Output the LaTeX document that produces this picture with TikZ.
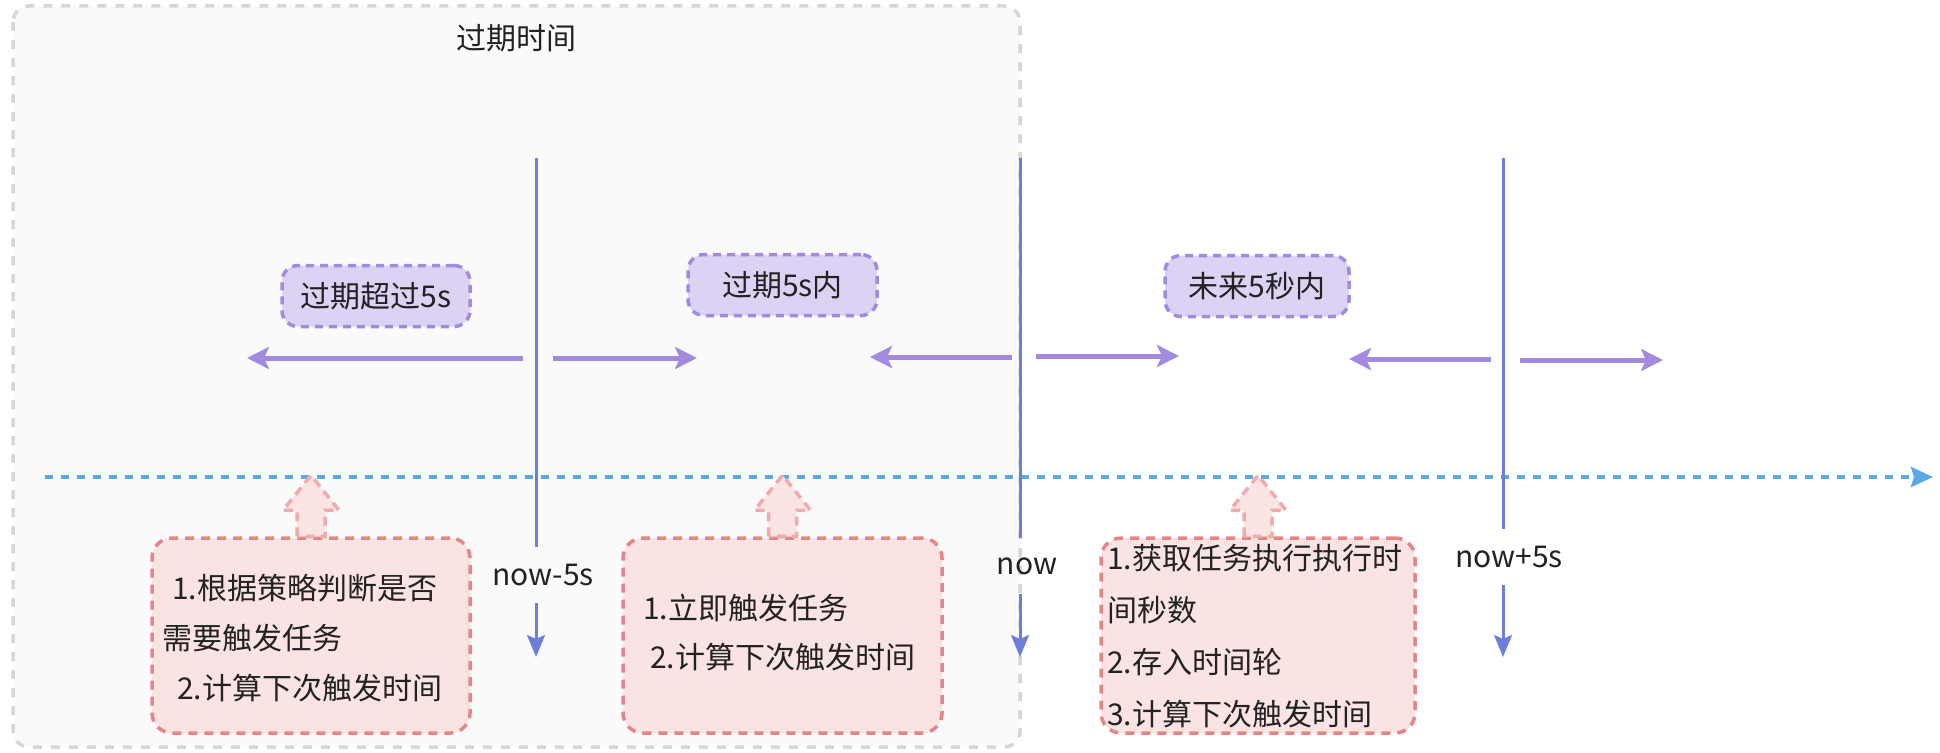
\documentclass[tikz,border=0pt]{standalone}
\usepackage{fontspec}
\setmainfont{Noto Sans CJK SC}
\usetikzlibrary{arrows.meta,calc}
\definecolor{bgfill}{HTML}{FAFAFA}
\definecolor{bgline}{HTML}{D6D6D6}
\definecolor{tagfill}{HTML}{DCD2F3}
\definecolor{tagline}{HTML}{A28BDD}
\definecolor{parrow}{HTML}{A48ADE}
\definecolor{vline}{HTML}{6E7FD9}
\definecolor{bline}{HTML}{5DA7E2}
\definecolor{boxfill}{HTML}{FAE3E3}
\definecolor{boxline}{HTML}{E58586}
\definecolor{harrowline}{HTML}{F1ABAB}
\definecolor{harrowfill}{HTML}{FBE4E4}
\definecolor{txt}{HTML}{222222}
\newcommand{\hollowup}[1]{%
  \draw[hollowarrow] ($(#1.north)+(-14,0)$) -- ++(0,-26) -- ++(-14,0)
    -- ($(#1.north)+(0,-61)$) -- ($(#1.north)+(28,-26)$) -- ++(-14,0)
    -- ($(#1.north)+(14,0)$) -- cycle;}
\begin{document}
\begin{tikzpicture}[x=1pt,y=-1pt,
  font=\fontsize{30}{36}\selectfont, text=txt,
  containerbox/.style={draw=bgline, fill=bgfill, line width=3.5pt,
    dash pattern=on 9pt off 9pt, rounded corners=16pt},
  tagbox/.style={draw=tagline, fill=tagfill, line width=3.5pt,
    dash pattern=on 8pt off 6pt, rounded corners=16pt, inner sep=0pt,
    minimum height=61pt},
  taskbox/.style={draw=boxline, fill=boxfill, line width=3.5pt,
    dash pattern=on 9pt off 7pt, rounded corners=20pt, inner sep=0pt,
    minimum height=195pt},
  hollowarrow/.style={draw=harrowline, fill=harrowfill, line width=3.5pt,
    dash pattern=on 9pt off 6pt, line join=miter},
  timeline/.style={draw=bline, line width=4pt, dash pattern=on 8pt off 8pt,
    -{Stealth[length=22pt,width=20pt,inset=3pt,fill=bline]}},
  markline/.style={draw=vline, line width=3pt},
  markarrow/.style={draw=vline, line width=3pt,
    -{Stealth[length=22pt,width=18pt,inset=4pt,fill=vline]}},
  rangearrow/.style={draw=parrow, line width=5pt,
    -{Stealth[length=22pt,width=22pt,inset=5pt,fill=parrow]}},
  marklabel/.style={inner sep=0pt, minimum height=56pt},
  textline/.style={anchor=west, inner sep=0pt}
]
\useasboundingbox (0,0) rectangle (1940,752);

% container for expired time
\draw[containerbox] (13,6) rectangle (1020,747);
\node (title) at (516,38) {过期时间};

% time axis
\coordinate (axisL) at (45,477);
\coordinate (axisR) at (1933,477);
\draw[timeline] (axisL) -- (axisR);

% vertical time marks
\coordinate (t1) at (536,158);
\coordinate (b1) at (536,657);
\node[marklabel] (l1) at (543,575) {now-5s};
\draw[markline] (t1) -- (t1 |- l1.north);
\draw[markarrow] (t1 |- l1.south) -- (b1);

\coordinate (t2) at (1020,158);
\coordinate (b2) at (1020,657);
\node[marklabel] (l2) at (1027,566) {now};
\draw[markline] (t2) -- (t2 |- l2.north);
\draw[markarrow] (t2 |- l2.south) -- (b2);

\coordinate (t3) at (1503,158);
\coordinate (b3) at (1503,657);
\node[marklabel] (l3) at (1509,557) {now+5s};
\draw[markline] (t3) -- (t3 |- l3.north);
\draw[markarrow] (t3 |- l3.south) -- (b3);

% range tags
\node[tagbox, minimum width=188pt] (tag1) at (376,296) {过期超过5s};
\node[tagbox, minimum width=189pt] (tag2) at (782.5,285) {过期5s内};
\node[tagbox, minimum width=184pt] (tag3) at (1257,286) {未来5秒内};

% range arrows
\coordinate (a1s) at (523,358); \coordinate (a1e) at (247,358);
\coordinate (a2s) at (553,358); \coordinate (a2e) at (697,358);
\coordinate (a3s) at (1012,357); \coordinate (a3e) at (870,357);
\coordinate (a4s) at (1036,356); \coordinate (a4e) at (1179,356);
\coordinate (a5s) at (1491,359); \coordinate (a5e) at (1349,359);
\coordinate (a6s) at (1520,360); \coordinate (a6e) at (1663,360);
\draw[rangearrow] (a1s) -- (a1e);
\draw[rangearrow] (a2s) -- (a2e);
\draw[rangearrow] (a3s) -- (a3e);
\draw[rangearrow] (a4s) -- (a4e);
\draw[rangearrow] (a5s) -- (a5e);
\draw[rangearrow] (a6s) -- (a6e);

% task boxes
\node[taskbox, minimum width=318pt] (box1) at (311,635.5) {};
\node[taskbox, minimum width=319pt] (box2) at (782.5,635.5) {};
\node[taskbox, minimum width=314pt] (box3) at (1258,635.5) {};
\hollowup{box1}
\hollowup{box2}
\hollowup{box3}

% box texts
\node[textline] (b1t1) at (172,588) {1.根据策略判断是否};
\node[textline] (b1t2) at (162,638) {需要触发任务};
\node[textline] (b1t3) at (177,688) {2.计算下次触发时间};

\node[textline] (b2t1) at (643,608) {1.立即触发任务};
\node[textline] (b2t2) at (650,657) {2.计算下次触发时间};

\node[textline] (b3t1) at (1107,558) {1.获取任务执行执行时};
\node[textline] (b3t2) at (1107,610) {间秒数};
\node[textline] (b3t3) at (1107,662) {2.存入时间轮};
\node[textline] (b3t4) at (1107,714) {3.计算下次触发时间};
\end{tikzpicture}
\end{document}
